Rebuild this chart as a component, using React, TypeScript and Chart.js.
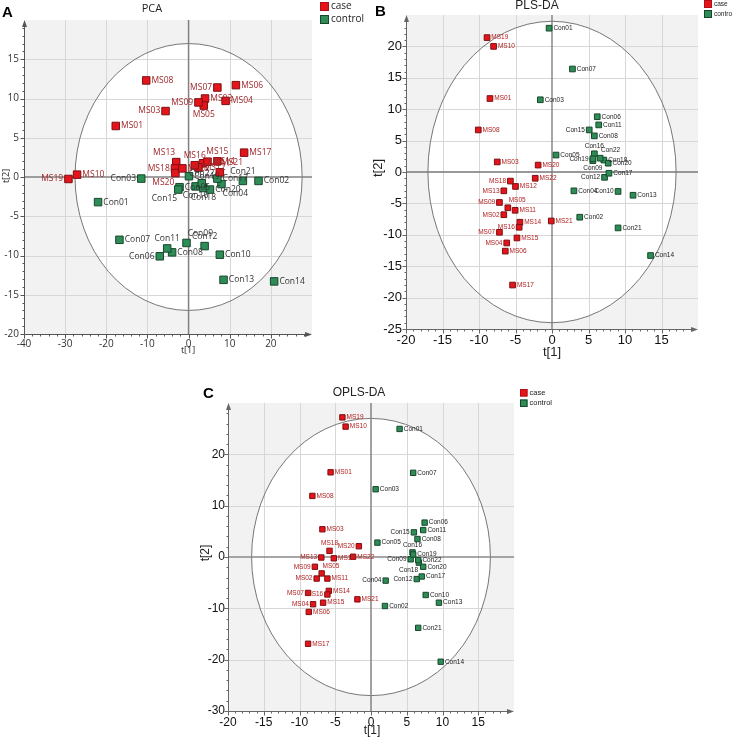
import React, { useEffect, useRef } from 'react';
import { Chart, registerables } from 'chart.js';

Chart.register(...registerables);

// ---------- data ----------
const caseIds = ['MS01','MS02','MS03','MS04','MS05','MS06','MS07','MS08','MS09','MS10','MS11','MS12','MS13','MS14','MS15','MS16','MS17','MS18','MS19','MS20','MS21','MS22'];
const controlIds = ['Con01','Con02','Con03','Con04','Con05','Con06','Con07','Con08','Con09','Con10','Con11','Con12','Con13','Con14','Con15','Con16','Con17','Con18','Con19','Con20','Con21','Con22'];
const legendNames = ['case', 'control'];

// PCA scores
const pcaCaseT1 = [-17.7, 4.0, -5.6, 9.0, 3.7, 11.5, 7.0, -10.3, 2.4, -27.1, 3.5, 2.4, -3.0, 4.6, 7.0, 1.5, 13.5, -3.3, -29.2, -3.2, 7.6, -1.5];
const pcaCaseT2 = [6.5, 10.0, 8.4, 9.7, 9.1, 11.7, 11.4, 12.3, 9.5, 0.3, 1.75, 1.2, 1.9, 1.95, 2.0, 1.5, 3.1, 1.1, -0.25, 0.5, 0.6, 1.1];
const pcaCtrlT1 = [-22.0, 17.0, -11.5, 8.0, -2.2, -7.0, -16.8, -4.0, -0.5, 7.6, -5.2, 3.9, 8.5, 20.8, -2.5, 1.7, 7.0, 3.6, 0.1, 5.2, 13.2, 3.2];
const pcaCtrlT2 = [-3.2, -0.5, -0.2, -0.9, -1.3, -10.1, -8.0, -9.6, -8.4, -9.9, -9.1, -8.8, -13.1, -13.3, -1.6, -1.2, -0.2, -1.4, 0.1, -1.6, -0.5, -0.8];
const pcaEllipse = [27.6, 17.0];

// PLS-DA scores
const plsCaseT1 = [-8.5, -6.6, -7.5, -6.2, -6.05, -6.4, -7.2, -10.1, -7.2, -8.0, -5.05, -5.0, -6.6, -4.4, -4.8, -4.5, -5.4, -5.7, -8.9, -1.9, -0.1, -2.3];
const plsCaseT2 = [11.7, -6.8, 1.6, -11.3, -5.7, -12.6, -9.6, 6.7, -4.85, 20.0, -6.1, -2.3, -3.0, -8.0, -10.5, -8.8, -18.0, -1.45, 21.4, 1.1, -7.8, -1.0];
const plsCtrlT1 = [-0.4, 3.8, -1.6, 3.0, 0.55, 6.2, 2.8, 5.8, 5.6, 9.05, 6.4, 7.2, 11.1, 13.5, 5.1, 5.8, 7.8, 7.1, 5.6, 7.7, 9.05, 6.6];
const plsCtrlT2 = [22.9, -7.2, 11.5, -3.0, 2.7, 8.8, 16.4, 5.75, 1.8, -3.1, 7.5, -0.85, -3.7, -13.3, 6.7, 2.9, -0.2, 1.9, 2.1, 1.4, -8.9, 2.2];
const plsEllipse = [17.0, 24.0];

// OPLS-DA scores
const oplsCaseT1 = [-5.65, -7.6, -6.8, -8.1, -6.9, -8.7, -8.8, -8.2, -7.85, -3.55, -6.1, -5.2, -6.95, -5.9, -6.7, -6.1, -8.8, -5.8, -4.0, -1.7, -1.9, -2.5];
const oplsCaseT2 = [16.5, -4.2, 5.4, -9.2, -3.2, -10.7, -7.0, 11.9, -1.9, 25.4, -4.2, -0.25, -0.1, -6.6, -8.9, -7.3, -16.9, 1.2, 27.2, 2.1, -8.25, 0.05];
const oplsCtrlT1 = [4.0, 1.95, 0.65, 2.05, 0.9, 7.5, 5.9, 6.5, 5.55, 7.65, 7.3, 6.4, 9.5, 9.75, 6.0, 5.8, 7.1, 6.7, 5.9, 7.3, 6.6, 6.6];
const oplsCtrlT2 = [24.95, -9.55, 13.2, -4.6, 2.8, 6.7, 16.4, 3.5, -0.45, -7.4, 5.25, -4.3, -8.9, -20.4, 4.8, 0.9, -3.8, -1.1, 0.5, -1.9, -13.8, -0.6];
const oplsEllipse = [16.7, 27.0];

// ---------- styles ----------
const CASE_FILL = '#e5141b';
const CASE_EDGE = '#7c1012';
const CTRL_FILL = '#2e8c57';
const CTRL_EDGE = '#17472b';
const GREY_BG = '#f2f2f2';
const GRID = '#d7d7d7';

type Place = 'r' | 'l' | 't' | 'b' | 'tr' | 'tl' | 'br' | 'bl';

const pcaPlace: Record<string, Place> = {
  MS19: 'l', MS03: 'l', MS07: 'l', MS09: 'l', MS05: 'b', MS13: 'tl', MS18: 'l', MS20: 'bl', MS16: 't', MS15: 't', MS21: 'tr',
  Con03: 'l', Con11: 't', Con06: 'l', Con09: 'tr', Con12: 't', Con21: 't', Con04: 'br', Con18: 'b', Con15: 'bl', Con16: 'b', Con22: 't',
};
const plsPlace: Record<string, Place> = {
  MS18: 'l', MS13: 'l', MS09: 'l', MS05: 'tr', MS02: 'l', MS16: 'l', MS07: 'l', MS04: 'l',
  Con15: 'l', Con16: 't', Con22: 'tr', Con19: 'l', Con09: 'b', Con12: 'l', Con10: 'l',
};
const oplsPlace: Record<string, Place> = {
  MS18: 't', MS20: 'l', MS13: 'l', MS09: 'l', MS05: 'tr', MS02: 'l', MS07: 'l', MS16: 'l', MS04: 'l',
  Con15: 'l', Con16: 't', Con09: 'l', Con18: 'bl', Con12: 'l', Con04: 'l',
};

interface PanelSpec {
  key: string;
  area: { left: number; top: number; right: number; bottom: number };
  yAxisW: number;
  xAxisH: number;
  xr: { min: number; max: number; step: number; minor: number };
  yr: { min: number; max: number; step: number; minor: number };
  caseX: number[]; caseY: number[]; ctrlX: number[]; ctrlY: number[];
  ellipse: number[];
  place: Record<string, Place>;
  tickFamily: string; tickSize: number; tickColor: string; xPad: number; yPad: number;
  pointR: number;
  labelFont: string; labelSize: number; caseLabelColor: string; ctrlLabelColor: string;
  axisColor: string; zeroColor: string; zeroWidth: number;
  title: { text: string; x: number; y: number; font: string };
  letter: { text: string; x: number; y: number };
  legend: { x: number; y: number; size: number; gap: number; font: string };
  xTitle: { x: number; y: number };
  yTitle: { x: number; y: number };
  axisTitleFont: string;
}

const panels: PanelSpec[] = [
  {
    key: 'pca',
    area: { left: 24, top: 20, right: 312, bottom: 334 },
    yAxisW: 24, xAxisH: 26,
    xr: { min: -40, max: 30, step: 10, minor: 2 },
    yr: { min: -20, max: 20, step: 5, minor: 1 },
    caseX: pcaCaseT1, caseY: pcaCaseT2, ctrlX: pcaCtrlT1, ctrlY: pcaCtrlT2,
    ellipse: pcaEllipse, place: pcaPlace,
    tickFamily: '"Open Sans", sans-serif', tickSize: 10, tickColor: '#333', xPad: 4, yPad: 5,
    pointR: 5.3,
    labelFont: '8.5px "Open Sans", sans-serif', labelSize: 8.5, caseLabelColor: '#a0282b', ctrlLabelColor: '#333',
    axisColor: '#555', zeroColor: '#808080', zeroWidth: 1.5,
    title: { text: 'PCA', x: 152, y: 9, font: '11px "Open Sans", sans-serif' },
    letter: { text: 'A', x: 2, y: 13 },
    legend: { x: 320, y: 2, size: 9, gap: 13, font: '10px "Open Sans", sans-serif' },
    xTitle: { x: 188, y: 350 }, yTitle: { x: 6, y: 176 }, axisTitleFont: '9px "Open Sans", sans-serif',
  },
  {
    key: 'pls',
    area: { left: 406, top: 15, right: 698, bottom: 329 },
    yAxisW: 40, xAxisH: 31,
    xr: { min: -20, max: 20, step: 5, minor: 1 },
    yr: { min: -25, max: 25, step: 5, minor: 1 },
    caseX: plsCaseT1, caseY: plsCaseT2, ctrlX: plsCtrlT1, ctrlY: plsCtrlT2,
    ellipse: plsEllipse, place: plsPlace,
    tickFamily: '"Liberation Sans", Arial, sans-serif', tickSize: 13, tickColor: '#111', xPad: 4, yPad: 4,
    pointR: 4,
    labelFont: '6.5px "Liberation Sans", Arial, sans-serif', labelSize: 6.5, caseLabelColor: '#b0201f', ctrlLabelColor: '#222',
    axisColor: '#666', zeroColor: '#777', zeroWidth: 1.3,
    title: { text: 'PLS-DA', x: 537, y: 6, font: '12px "Liberation Sans", Arial, sans-serif' },
    letter: { text: 'B', x: 375, y: 12 },
    legend: { x: 704, y: 0, size: 8, gap: 10, font: '6.5px "Liberation Sans", Arial, sans-serif' },
    xTitle: { x: 552, y: 352 }, yTitle: { x: 378, y: 168 }, axisTitleFont: '13px "Liberation Sans", Arial, sans-serif',
  },
  {
    key: 'opls',
    area: { left: 228, top: 403, right: 514, bottom: 711 },
    yAxisW: 38, xAxisH: 27,
    xr: { min: -20, max: 20, step: 5, minor: 1 },
    yr: { min: -30, max: 30, step: 10, minor: 2 },
    caseX: oplsCaseT1, caseY: oplsCaseT2, ctrlX: oplsCtrlT1, ctrlY: oplsCtrlT2,
    ellipse: oplsEllipse, place: oplsPlace,
    tickFamily: '"Liberation Sans", Arial, sans-serif', tickSize: 12, tickColor: '#111', xPad: 4, yPad: 3,
    pointR: 3.8,
    labelFont: '6.5px "Liberation Sans", Arial, sans-serif', labelSize: 6.5, caseLabelColor: '#b0201f', ctrlLabelColor: '#222',
    axisColor: '#666', zeroColor: '#8a8a8a', zeroWidth: 1.6,
    title: { text: 'OPLS-DA', x: 359, y: 393, font: '12px "Liberation Sans", Arial, sans-serif' },
    letter: { text: 'C', x: 203, y: 394 },
    legend: { x: 520, y: 389, size: 7.5, gap: 10.5, font: '7.5px "Liberation Sans", Arial, sans-serif' },
    xTitle: { x: 372, y: 731 }, yTitle: { x: 206, y: 553 }, axisTitleFont: '12px "Liberation Sans", Arial, sans-serif',
  },
];

function drawLabel(ctx: CanvasRenderingContext2D, text: string, x: number, y: number, h: number, place: Place, fs: number) {
  const g = 1.5;
  let tx = x, ty = y;
  let align: CanvasTextAlign = 'left';
  switch (place) {
    case 'r': tx = x + h + g; align = 'left'; break;
    case 'l': tx = x - h - g; align = 'right'; break;
    case 't': ty = y - h - g - fs / 2; align = 'center'; break;
    case 'b': ty = y + h + g + fs / 2; align = 'center'; break;
    case 'tr': tx = x + h * 0.3; ty = y - h - g - fs / 2; align = 'left'; break;
    case 'tl': tx = x - h * 0.3; ty = y - h - g - fs / 2; align = 'right'; break;
    case 'br': tx = x + h * 0.3; ty = y + h + g + fs / 2; align = 'left'; break;
    case 'bl': tx = x - h * 0.3; ty = y + h + g + fs / 2; align = 'right'; break;
  }
  ctx.textAlign = align;
  ctx.textBaseline = 'middle';
  ctx.fillText(text, tx, ty);
}

function makePlugin(spec: PanelSpec) {
  return {
    id: 'decor_' + spec.key,
    beforeDraw(chart: any) {
      const { ctx, chartArea: ca, scales } = chart;
      const xs = scales.x, ys = scales.y;
      ctx.save();
      ctx.fillStyle = GREY_BG;
      ctx.fillRect(ca.left, ca.top, ca.right - ca.left, ca.bottom - ca.top);
      const cx = xs.getPixelForValue(0), cy = ys.getPixelForValue(0);
      const rx = Math.abs(xs.getPixelForValue(spec.ellipse[0]) - cx);
      const ry = Math.abs(ys.getPixelForValue(spec.ellipse[1]) - cy);
      ctx.beginPath();
      ctx.ellipse(cx, cy, rx, ry, 0, 0, Math.PI * 2);
      ctx.fillStyle = '#ffffff';
      ctx.fill();
      // grid
      ctx.strokeStyle = GRID;
      ctx.lineWidth = 1;
      for (let v = spec.xr.min + spec.xr.step; v < spec.xr.max - 1e-9; v += spec.xr.step) {
        if (Math.abs(v) < 1e-9) continue;
        const px = Math.round(xs.getPixelForValue(v)) + 0.5;
        ctx.beginPath(); ctx.moveTo(px, ca.top); ctx.lineTo(px, ca.bottom); ctx.stroke();
      }
      for (let v = spec.yr.min + spec.yr.step; v < spec.yr.max - 1e-9; v += spec.yr.step) {
        if (Math.abs(v) < 1e-9) continue;
        const py = Math.round(ys.getPixelForValue(v)) + 0.5;
        ctx.beginPath(); ctx.moveTo(ca.left, py); ctx.lineTo(ca.right, py); ctx.stroke();
      }
      // ellipse outline
      ctx.beginPath();
      ctx.ellipse(cx, cy, rx, ry, 0, 0, Math.PI * 2);
      ctx.strokeStyle = '#777';
      ctx.lineWidth = 1;
      ctx.stroke();
      // zero lines
      ctx.strokeStyle = spec.zeroColor;
      ctx.lineWidth = spec.zeroWidth;
      ctx.beginPath(); ctx.moveTo(cx, ca.top); ctx.lineTo(cx, ca.bottom); ctx.stroke();
      ctx.beginPath(); ctx.moveTo(ca.left, cy); ctx.lineTo(ca.right, cy); ctx.stroke();
      // axis lines with arrows
      ctx.strokeStyle = spec.axisColor;
      ctx.fillStyle = spec.axisColor;
      ctx.lineWidth = 1;
      const ax = Math.round(ca.left) + 0.5, ay = Math.round(ca.bottom) + 0.5;
      ctx.beginPath(); ctx.moveTo(ax, ay); ctx.lineTo(ax, ca.top + 2); ctx.stroke();
      ctx.beginPath(); ctx.moveTo(ax, ay); ctx.lineTo(ca.right - 2, ay); ctx.stroke();
      ctx.beginPath(); ctx.moveTo(ax, ca.top); ctx.lineTo(ax - 2.5, ca.top + 7); ctx.lineTo(ax + 2.5, ca.top + 7); ctx.closePath(); ctx.fill();
      ctx.beginPath(); ctx.moveTo(ca.right, ay); ctx.lineTo(ca.right - 7, ay - 2.5); ctx.lineTo(ca.right - 7, ay + 2.5); ctx.closePath(); ctx.fill();
      // tick marks
      const nx = Math.round((spec.xr.max - spec.xr.min) / spec.xr.minor);
      for (let i = 0; i < nx; i++) {
        const v = spec.xr.min + i * spec.xr.minor;
        const major = Math.abs((v - spec.xr.min) / spec.xr.step - Math.round((v - spec.xr.min) / spec.xr.step)) < 1e-6;
        const px = Math.round(xs.getPixelForValue(v)) + 0.5;
        ctx.beginPath(); ctx.moveTo(px, ay); ctx.lineTo(px, ay + (major ? 4 : 2)); ctx.stroke();
      }
      const ny = Math.round((spec.yr.max - spec.yr.min) / spec.yr.minor);
      for (let i = 0; i < ny; i++) {
        const v = spec.yr.min + i * spec.yr.minor;
        const major = Math.abs((v - spec.yr.min) / spec.yr.step - Math.round((v - spec.yr.min) / spec.yr.step)) < 1e-6;
        const py = Math.round(ys.getPixelForValue(v)) + 0.5;
        ctx.beginPath(); ctx.moveTo(ax, py); ctx.lineTo(ax - (major ? 4 : 2), py); ctx.stroke();
      }
      ctx.restore();
    },
    afterDatasetsDraw(chart: any) {
      const { ctx } = chart;
      ctx.save();
      ctx.font = spec.labelFont;
      const h = spec.pointR * Math.SQRT1_2;
      [caseIds, controlIds].forEach((ids, di) => {
        const meta = chart.getDatasetMeta(di);
        ctx.fillStyle = di === 0 ? spec.caseLabelColor : spec.ctrlLabelColor;
        meta.data.forEach((el: any, i: number) => {
          const id = ids[i];
          drawLabel(ctx, id, el.x, el.y, h, spec.place[id] || 'r', spec.labelSize);
        });
      });
      ctx.restore();
    },
    afterDraw(chart: any) {
      const { ctx } = chart;
      ctx.save();
      // title
      ctx.fillStyle = '#222';
      ctx.font = spec.title.font;
      ctx.textAlign = 'center';
      ctx.textBaseline = 'middle';
      ctx.fillText(spec.title.text, spec.title.x, spec.title.y);
      // panel letter
      ctx.fillStyle = '#000';
      ctx.font = 'bold 15px "Liberation Sans", Arial, sans-serif';
      ctx.textAlign = 'left';
      ctx.fillText(spec.letter.text, spec.letter.x, spec.letter.y);
      // legend
      const lg = spec.legend;
      legendNames.forEach((name, i) => {
        const y = lg.y + i * lg.gap;
        ctx.fillStyle = i === 0 ? CASE_FILL : CTRL_FILL;
        ctx.fillRect(lg.x, y, lg.size, lg.size);
        ctx.strokeStyle = i === 0 ? '#b01015' : CTRL_EDGE;
        ctx.lineWidth = 1;
        ctx.strokeRect(lg.x + 0.5, y + 0.5, lg.size - 1, lg.size - 1);
        ctx.fillStyle = '#222';
        ctx.font = lg.font;
        ctx.textAlign = 'left';
        ctx.textBaseline = 'middle';
        ctx.fillText(name, lg.x + lg.size + 2, y + lg.size / 2);
      });
      // axis titles
      ctx.fillStyle = '#222';
      ctx.font = spec.axisTitleFont;
      ctx.textAlign = 'center';
      ctx.textBaseline = 'middle';
      ctx.fillText('t[1]', spec.xTitle.x, spec.xTitle.y);
      ctx.translate(spec.yTitle.x, spec.yTitle.y);
      ctx.rotate(-Math.PI / 2);
      ctx.fillText('t[2]', 0, 0);
      ctx.restore();
    },
  };
}

function PanelChart({ spec }: { spec: PanelSpec }) {
  const ref = useRef<HTMLCanvasElement>(null);
  useEffect(() => {
    const canvas = ref.current;
    if (!canvas) return;
    const pts = (xs: number[], ys: number[]) => xs.map((v, i) => ({ x: v, y: ys[i] }));
    const chart = new Chart(canvas, {
      type: 'scatter',
      data: {
        datasets: [
          {
            label: legendNames[0],
            data: pts(spec.caseX, spec.caseY),
            pointStyle: 'rect',
            pointRadius: spec.pointR,
            backgroundColor: CASE_FILL,
            borderColor: CASE_EDGE,
            borderWidth: 1,
          },
          {
            label: legendNames[1],
            data: pts(spec.ctrlX, spec.ctrlY),
            pointStyle: 'rect',
            pointRadius: spec.pointR,
            backgroundColor: CTRL_FILL,
            borderColor: CTRL_EDGE,
            borderWidth: 1,
          },
        ],
      },
      options: {
        responsive: false,
        animation: false,
        devicePixelRatio: 1,
        events: [],
        layout: {
          padding: {
            left: spec.area.left - spec.yAxisW,
            top: spec.area.top,
            right: 732 - spec.area.right,
            bottom: 738 - spec.area.bottom - spec.xAxisH,
          },
        },
        plugins: { legend: { display: false }, tooltip: { enabled: false }, title: { display: false } },
        scales: {
          x: {
            type: 'linear',
            position: 'bottom',
            min: spec.xr.min,
            max: spec.xr.max,
            grid: { display: false, drawTicks: false },
            border: { display: false },
            afterFit: (s: any) => { s.height = spec.xAxisH; },
            ticks: {
              stepSize: spec.xr.step,
              autoSkip: false,
              maxRotation: 0,
              minRotation: 0,
              padding: spec.xPad,
              color: spec.tickColor,
              font: { family: spec.tickFamily, size: spec.tickSize },
              callback: (v: any) => (Number(v) === spec.xr.max ? '' : String(v)),
            },
          },
          y: {
            type: 'linear',
            position: 'left',
            min: spec.yr.min,
            max: spec.yr.max,
            grid: { display: false, drawTicks: false },
            border: { display: false },
            afterFit: (s: any) => { s.width = spec.yAxisW; },
            ticks: {
              stepSize: spec.yr.step,
              autoSkip: false,
              padding: spec.yPad,
              color: spec.tickColor,
              font: { family: spec.tickFamily, size: spec.tickSize },
              callback: (v: any) => (Number(v) === spec.yr.max ? '' : String(v)),
            },
          },
        },
      },
      plugins: [makePlugin(spec)],
    } as any);
    return () => chart.destroy();
  }, [spec]);
  return (
    <canvas
      ref={ref}
      width={732}
      height={738}
      style={{ position: 'absolute', left: 0, top: 0, width: 732, height: 738 }}
    />
  );
}

export default function App() {
  return (
    <div style={{ position: 'absolute', left: 0, top: 0, width: 732, height: 738, background: '#fff', overflow: 'hidden' }}>
      {panels.map((p) => (
        <PanelChart key={p.key} spec={p} />
      ))}
    </div>
  );
}
